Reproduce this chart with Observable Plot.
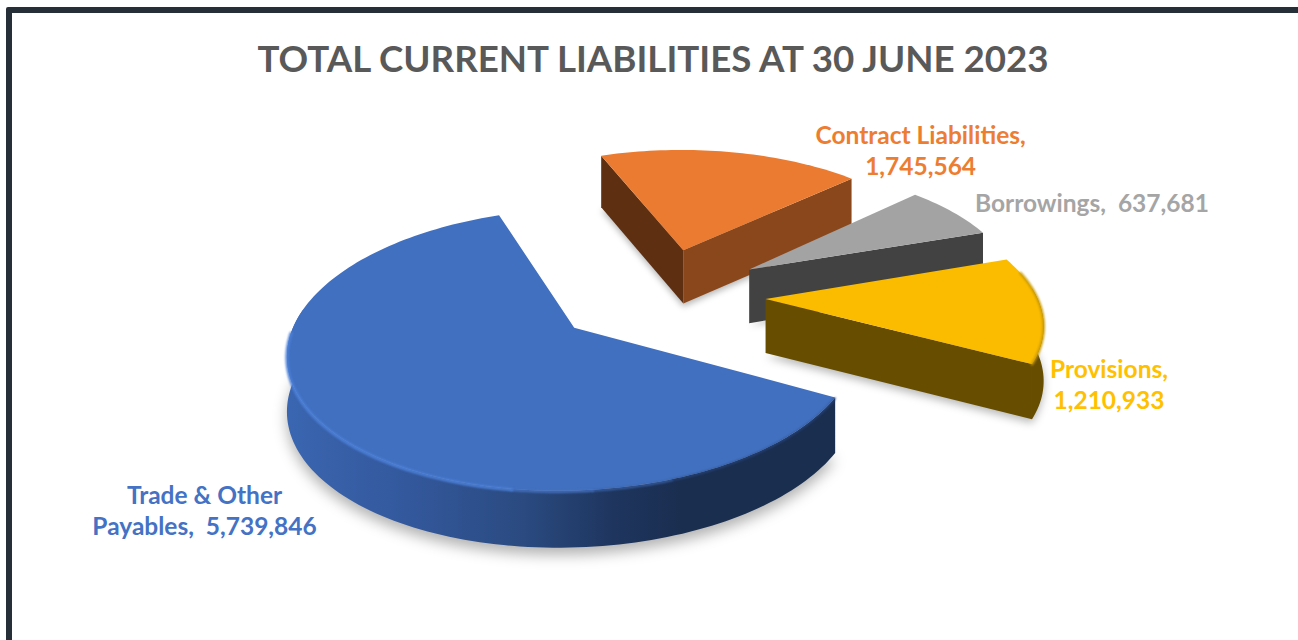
<!DOCTYPE html>
<html>
<head>
<meta charset="utf-8">
<script src="https://cdn.jsdelivr.net/npm/d3@7"></script>
<script src="https://cdn.jsdelivr.net/npm/@observablehq/plot@0.6"></script>
<style>
  html, body { margin: 0; background: #fff; overflow: hidden; }
  #page { position: relative; width: 1298px; height: 640px; overflow: hidden; font-family: Lato, sans-serif; }
  #border { position: absolute; left: 6px; top: 7px; width: 1289px; height: 700px; border: 6px solid #262e38; border-radius: 2px; box-sizing: content-box; }
  #title { position: relative; height: 90px; padding-top: 36px; box-sizing: border-box; text-align: center; font-size: 36.7px; line-height: 44px; font-weight: 700; color: #595959; left: 4px; }
  svg { display: block; position: relative; }
</style>
</head>
<body>
<div id="page">
  <div id="border"></div>
  <div id="title">TOTAL CURRENT LIABILITIES AT 30 JUNE 2023</div>
  <div id="chart"></div>
</div>
<script>
// Current liabilities, in slice order clockwise from the first angle
const names = ["Trade & Other Payables", "Contract Liabilities", "Borrowings", "Provisions"];
const values = [5739846, 1745564, 637681, 1210933];
const labelLines = [
  ["Trade & Other", "Payables,  "],
  ["Contract Liabilities,", ""],
  ["", "Borrowings,  "],
  ["Provisions,", ""]
];
const topColors = ["#4170c0", "#ea7b30", "#a3a3a3", "#fbbc00"];
const textColors = ["#4472c4", "#ed7d31", "#a5a5a5", "#ffc000"];

// View of the pie: first angle, tilt, perspective, thickness, explosion per slice
const firstAngle = 28 * Math.PI / 180;
const tilt = 0.47;
const persp = 0.15;
const radius = 270;            // pixels per unit of pie radius
const centre = [662, 292];     // pixel position of the pie's axis
const headHeight = 90, svgHeight = 550;
const thickness = 54 / radius;
const explode = [0.418, 0.36, 0.385, 0.38];
const nudgeDown = [-0.01, 0, 0.012, 0.02];

const arcs = d3.pie().sort(null).startAngle(firstAngle).endAngle(firstAngle + 2 * Math.PI)(values);
const slices = arcs.map((a, i) => {
  const mid = (a.startAngle + a.endAngle) / 2;
  return {i, a0: a.startAngle, a1: a.endAngle, ox: explode[i] * Math.cos(mid), oy: explode[i] * Math.sin(mid) + nudgeDown[i], mid};
});

// Ground-plane point to view coordinates; drop pushes the point down the wall
function view(u, v, drop = 0) {
  const s = 1 / (1 - persp * v);
  return {x: s * u, y: s * v * tilt + drop * Math.pow(s, 0.25)};
}
const apex = (s, drop) => view(s.ox, s.oy, drop);
const rim = (s, t, drop) => view(s.ox + Math.cos(t), s.oy + Math.sin(t), drop);
function rimPath(s, t0, t1, drop) {
  const n = Math.max(2, Math.ceil(Math.abs(t1 - t0) * 40));
  return d3.range(n + 1).map(k => rim(s, t0 + (t1 - t0) * k / n, drop));
}
const topFace = s => [apex(s, 0), ...rimPath(s, s.a0, s.a1, 0)];
const rimWall = (s, t0, t1) => [...rimPath(s, t0, t1, 0), ...rimPath(s, t1, t0, thickness)];
const sideWall = (s, t) => [apex(s, 0), rim(s, t, 0), rim(s, t, thickness), apex(s, thickness)];
const footprint = (s, d) => [apex(s, d), ...rimPath(s, s.a0, s.a1, d)];

const [blue, orange, gray, yellow] = slices;
const rad = d => d * Math.PI / 180;
const poly = (pts, fill, extra = {}) => Plot.line(pts, {x: "x", y: "y", fill, stroke: "none", ...extra});
const yellowEnd = yellow.a1;

// Shared gradient for the shaded front wall of the largest slice
const defs = () => {
  const svgNS = "http://www.w3.org/2000/svg";
  const d = document.createElementNS(svgNS, "defs");
  d.innerHTML = `<linearGradient id="wallBlue" gradientUnits="userSpaceOnUse" x1="290" x2="680" y1="0" y2="0">
    <stop offset="0" stop-color="#3a65b0"/><stop offset="0.3" stop-color="#33589c"/>
    <stop offset="0.6" stop-color="#2a4a80"/><stop offset="0.83" stop-color="#1e355e"/>
    <stop offset="1" stop-color="#1a2e50"/></linearGradient>`;
  return d;
};

// Bevel along the front edge of the largest slice, light at the left and dark at the right
const bevel = [
  [28, 70, "#2a4a82", 1.5],
  [70, 84, "#3a63aa", 2],
  [84, 98, "#4572c2", 2.5],
  [98, 178, "#4c80d8", 3]
];

const marks = [
  defs,
  // soft ground shadows
  poly(footprint(orange, thickness + 0.012), "#000", {fillOpacity: 0.28, imageFilter: "blur(3px)"}),
  poly(footprint(gray, thickness + 0.012), "#000", {fillOpacity: 0.25, imageFilter: "blur(3px)"}),
  poly(footprint(yellow, thickness + 0.014), "#000", {fillOpacity: 0.28, imageFilter: "blur(4px)"}),
  poly(footprint(blue, thickness + 0.025), "#000", {fillOpacity: 0.30, imageFilter: "blur(7px)"}),
  // contract liabilities
  poly(sideWall(orange, orange.a0), "#5f2f12"),
  poly(sideWall(orange, orange.a1), "#8a471c"),
  poly(topFace(orange), topColors[1]),
  // borrowings
  poly(sideWall(gray, gray.a1), "#424242"),
  poly(topFace(gray), topColors[2]),
  // provisions
  poly(rimWall(yellow, rad(355), yellowEnd), "#664d00"),
  poly(sideWall(yellow, yellowEnd), "#664d00"),
  poly(topFace(yellow), topColors[3]),
  Plot.line(rimPath(yellow, rad(348), yellowEnd, 0), {x: "x", y: "y", stroke: "#c79800", strokeWidth: 2.5, imageFilter: "blur(1px)"}),
  // trade & other payables
  poly(rimWall(blue, blue.a0, rad(188)), "url(#wallBlue)"),
  poly(topFace(blue), topColors[0]),
  ...bevel.map(([t0, t1, stroke, strokeWidth]) =>
    Plot.line(rimPath(blue, rad(t0), rad(t1), 0.003), {x: "x", y: "y", stroke, strokeWidth, imageFilter: "blur(1px)"}))
];

// Data labels: name and value, placed relative to each slice's outer rim
const labelOffset = [[-98, 107], [189, -3], [109, -31], [66, 66]];
const labelAt = [rad(150), orange.mid, gray.a1, rad(8)];
const fmt = d3.format(",");
slices.forEach((s, i) => {
  const [a, b] = labelLines[i];
  const text = `${a}${a ? "\n" : ""}${b}${fmt(values[i])}`;
  const p = rim(s, labelAt[i], 0);
  marks.push(Plot.text([{...p, text}], {
    x: "x", y: "y", text: "text", fill: textColors[i],
    fontFamily: "Lato, sans-serif", fontWeight: 700, fontSize: 24.5, lineHeight: 1.3,
    dx: labelOffset[i][0], dy: labelOffset[i][1]
  }));
});

const chart = Plot.plot({
  width: 1298,
  height: svgHeight,
  margin: 0,
  style: {background: "transparent"},
  x: {axis: null, domain: [-centre[0] / radius, (1298 - centre[0]) / radius], range: [0, 1298]},
  y: {axis: null, domain: [(headHeight - centre[1]) / radius, (headHeight + svgHeight - centre[1]) / radius], range: [0, svgHeight]},
  marks
});
document.getElementById("chart").appendChild(chart);
</script>
</body>
</html>
